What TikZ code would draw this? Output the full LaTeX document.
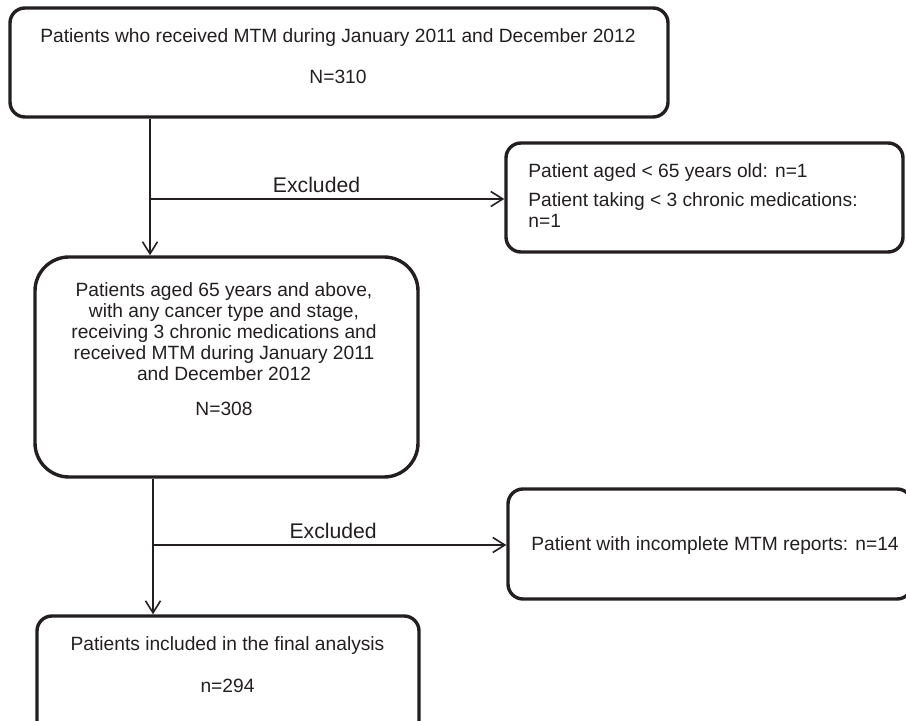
\documentclass[tikz,border=0pt]{standalone}
\usepackage{fontspec}
\setmainfont{Liberation Sans}
\usepackage{xcolor}
\usepackage{tikz}
\usetikzlibrary{
	arrows.meta,
	calc,
	positioning,
	}
\definecolor{ink}{RGB}{35,31,32}

\begin{document}
\begin{tikzpicture}[x=0.5pt,y=-0.5pt,
		box/.style={draw=ink, line width=1.7pt, rounded corners=7.5pt, inner sep=0pt},
		txt/.style={text=ink, font=\fontsize{9.6}{10.5}\selectfont, inner sep=0pt, align=center, anchor=north},
		lbl/.style={text=ink, font=\fontsize{10.6}{12}\selectfont, above, inner sep=2.5pt},
		flow/.style={draw=ink, line width=0.8pt, -{Straight Barb[length=6pt,width=7.5pt]}},
	]
		\clip (0,0) rectangle (906,721);
		% boxes
		\node[box, minimum width=329pt, minimum height=54.5pt] (all) at (339,62.5) {};
		\node[box, minimum width=191.5pt, minimum height=110pt, rounded corners=17pt] (older) at (226.5,367) {};
		\node[box, minimum width=198.5pt, minimum height=54.5pt] (excl1) at (704.5,197.5) {};
		\node[box, minimum width=202pt, minimum height=55pt] (excl2) at (710,544) {};
		\node[box, minimum width=191pt, minimum height=62pt] (final) at (228,678) {};
		% texts
		\node[txt] (allt) at (338,28) {Patients who received MTM during January 2011 and December 2012\\[10.25pt]N=310};
		\node[txt] (oldert) at (224,282) {Patients aged 65 years and above,\\with any cancer type and stage,\\receiving 3 chronic medications and\\received MTM during January 2011\\and December 2012\\[7pt]N=308};
		\node[txt, anchor=north west, align=left] (excl1t) at (528,163) {Patient aged < 65 years old: n=1\\[4pt]Patient taking < 3 chronic medications:\\n=1};
		\node[txt, anchor=north west, align=left] (excl2t) at (531,536) {Patient with incomplete MTM reports: n=14};
		\node[txt] (finalt) at (227.5,636) {Patients included in the final analysis\\[10.5pt]n=294};
		% connectors
		\coordinate (split1) at (150,199);
		\coordinate (split2) at (153,545);
		\draw[flow] (all.south -| split1) -- (older.north -| split1);
		\draw[flow] (split1) -- node[lbl, pos=0.47] {Excluded} (split1 -| excl1.west);
		\draw[flow] (older.south -| split2) -- (final.north -| split2);
		\draw[flow] (split2) -- node[lbl, pos=0.51] {Excluded} (split2 -| excl2.west);
	\end{tikzpicture}
\end{document}
